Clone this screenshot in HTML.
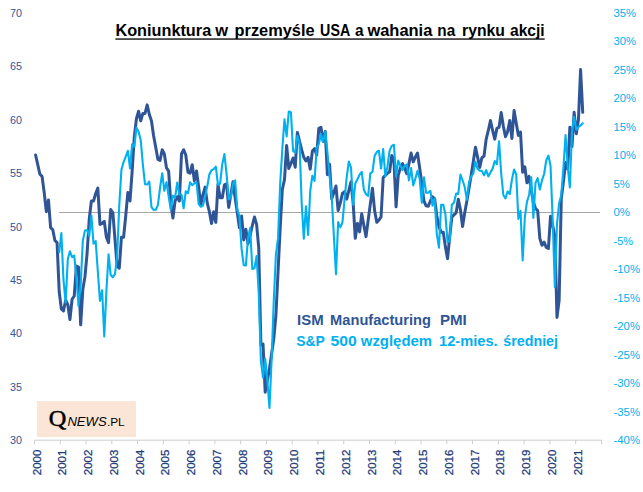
<!DOCTYPE html>
<html><head><meta charset="utf-8"><title>Koniunktura w przemyśle USA a wahania na rynku akcji</title>
<style>
html,body{margin:0;padding:0;background:#fff;}
body{width:643px;height:492px;overflow:hidden;font-family:"Liberation Sans",sans-serif;}
svg{display:block;}
text{font-family:"Liberation Sans",sans-serif;}
.la{fill:#2F5597;font-size:11px;}
.ra{fill:#00B0F0;font-size:11px;}
.ya{fill:#21397A;font-size:11px;stroke:#21397A;stroke-width:0.25;}
.ti{fill:#000;font-size:15.7px;font-weight:bold;}
.l1{fill:#2F5597;font-size:15px;font-weight:bold;}
.l2{fill:#00B0F0;font-size:15px;font-weight:bold;}
</style></head><body>
<svg width="643" height="492" viewBox="0 0 643 492">
<rect x="0" y="0" width="643" height="492" fill="#ffffff"/>

<text class="la" x="10" y="16.9" textLength="12" lengthAdjust="spacingAndGlyphs">70</text>
<text class="la" x="10" y="70.3" textLength="12" lengthAdjust="spacingAndGlyphs">65</text>
<text class="la" x="10" y="123.7" textLength="12" lengthAdjust="spacingAndGlyphs">60</text>
<text class="la" x="10" y="177.1" textLength="12" lengthAdjust="spacingAndGlyphs">55</text>
<text class="la" x="10" y="230.5" textLength="12" lengthAdjust="spacingAndGlyphs">50</text>
<text class="la" x="10" y="283.9" textLength="12" lengthAdjust="spacingAndGlyphs">45</text>
<text class="la" x="10" y="337.3" textLength="12" lengthAdjust="spacingAndGlyphs">40</text>
<text class="la" x="10" y="390.7" textLength="12" lengthAdjust="spacingAndGlyphs">35</text>
<text class="la" x="10" y="444.1" textLength="12" lengthAdjust="spacingAndGlyphs">30</text>
<text class="ra" x="613.5" y="16.9" textLength="22.5" lengthAdjust="spacingAndGlyphs">35%</text>
<text class="ra" x="613.5" y="45.4" textLength="22.5" lengthAdjust="spacingAndGlyphs">30%</text>
<text class="ra" x="613.5" y="73.9" textLength="22.5" lengthAdjust="spacingAndGlyphs">25%</text>
<text class="ra" x="613.5" y="102.3" textLength="22.5" lengthAdjust="spacingAndGlyphs">20%</text>
<text class="ra" x="613.5" y="130.8" textLength="22.5" lengthAdjust="spacingAndGlyphs">15%</text>
<text class="ra" x="613.5" y="159.3" textLength="22.5" lengthAdjust="spacingAndGlyphs">10%</text>
<text class="ra" x="613.5" y="187.8" textLength="16.5" lengthAdjust="spacingAndGlyphs">5%</text>
<text class="ra" x="613.5" y="216.3" textLength="16.5" lengthAdjust="spacingAndGlyphs">0%</text>
<text class="ra" x="613.5" y="244.7" textLength="19.5" lengthAdjust="spacingAndGlyphs">-5%</text>
<text class="ra" x="613.5" y="273.2" textLength="26.5" lengthAdjust="spacingAndGlyphs">-10%</text>
<text class="ra" x="613.5" y="301.7" textLength="26.5" lengthAdjust="spacingAndGlyphs">-15%</text>
<text class="ra" x="613.5" y="330.2" textLength="26.5" lengthAdjust="spacingAndGlyphs">-20%</text>
<text class="ra" x="613.5" y="358.7" textLength="26.5" lengthAdjust="spacingAndGlyphs">-25%</text>
<text class="ra" x="613.5" y="387.1" textLength="26.5" lengthAdjust="spacingAndGlyphs">-30%</text>
<text class="ra" x="613.5" y="415.6" textLength="26.5" lengthAdjust="spacingAndGlyphs">-35%</text>
<text class="ra" x="613.5" y="444.1" textLength="26.5" lengthAdjust="spacingAndGlyphs">-40%</text>
<line x1="34.5" y1="440.2" x2="601.4399999999999" y2="440.2" stroke="#CDCDCD" stroke-width="1"/>
<line x1="34.50" y1="440.2" x2="34.50" y2="444.2" stroke="#CDCDCD" stroke-width="1"/>
<line x1="60.27" y1="440.2" x2="60.27" y2="444.2" stroke="#CDCDCD" stroke-width="1"/>
<line x1="86.04" y1="440.2" x2="86.04" y2="444.2" stroke="#CDCDCD" stroke-width="1"/>
<line x1="111.81" y1="440.2" x2="111.81" y2="444.2" stroke="#CDCDCD" stroke-width="1"/>
<line x1="137.58" y1="440.2" x2="137.58" y2="444.2" stroke="#CDCDCD" stroke-width="1"/>
<line x1="163.35" y1="440.2" x2="163.35" y2="444.2" stroke="#CDCDCD" stroke-width="1"/>
<line x1="189.12" y1="440.2" x2="189.12" y2="444.2" stroke="#CDCDCD" stroke-width="1"/>
<line x1="214.89" y1="440.2" x2="214.89" y2="444.2" stroke="#CDCDCD" stroke-width="1"/>
<line x1="240.66" y1="440.2" x2="240.66" y2="444.2" stroke="#CDCDCD" stroke-width="1"/>
<line x1="266.43" y1="440.2" x2="266.43" y2="444.2" stroke="#CDCDCD" stroke-width="1"/>
<line x1="292.20" y1="440.2" x2="292.20" y2="444.2" stroke="#CDCDCD" stroke-width="1"/>
<line x1="317.97" y1="440.2" x2="317.97" y2="444.2" stroke="#CDCDCD" stroke-width="1"/>
<line x1="343.74" y1="440.2" x2="343.74" y2="444.2" stroke="#CDCDCD" stroke-width="1"/>
<line x1="369.51" y1="440.2" x2="369.51" y2="444.2" stroke="#CDCDCD" stroke-width="1"/>
<line x1="395.28" y1="440.2" x2="395.28" y2="444.2" stroke="#CDCDCD" stroke-width="1"/>
<line x1="421.05" y1="440.2" x2="421.05" y2="444.2" stroke="#CDCDCD" stroke-width="1"/>
<line x1="446.82" y1="440.2" x2="446.82" y2="444.2" stroke="#CDCDCD" stroke-width="1"/>
<line x1="472.59" y1="440.2" x2="472.59" y2="444.2" stroke="#CDCDCD" stroke-width="1"/>
<line x1="498.36" y1="440.2" x2="498.36" y2="444.2" stroke="#CDCDCD" stroke-width="1"/>
<line x1="524.13" y1="440.2" x2="524.13" y2="444.2" stroke="#CDCDCD" stroke-width="1"/>
<line x1="549.90" y1="440.2" x2="549.90" y2="444.2" stroke="#CDCDCD" stroke-width="1"/>
<line x1="575.67" y1="440.2" x2="575.67" y2="444.2" stroke="#CDCDCD" stroke-width="1"/>
<line x1="601.44" y1="440.2" x2="601.44" y2="444.2" stroke="#CDCDCD" stroke-width="1"/>
<text class="ya" transform="translate(40.50,475.2) rotate(-90)" textLength="25.5" lengthAdjust="spacingAndGlyphs">2000</text>
<text class="ya" transform="translate(66.27,475.2) rotate(-90)" textLength="25.5" lengthAdjust="spacingAndGlyphs">2001</text>
<text class="ya" transform="translate(92.04,475.2) rotate(-90)" textLength="25.5" lengthAdjust="spacingAndGlyphs">2002</text>
<text class="ya" transform="translate(117.81,475.2) rotate(-90)" textLength="25.5" lengthAdjust="spacingAndGlyphs">2003</text>
<text class="ya" transform="translate(143.58,475.2) rotate(-90)" textLength="25.5" lengthAdjust="spacingAndGlyphs">2004</text>
<text class="ya" transform="translate(169.35,475.2) rotate(-90)" textLength="25.5" lengthAdjust="spacingAndGlyphs">2005</text>
<text class="ya" transform="translate(195.12,475.2) rotate(-90)" textLength="25.5" lengthAdjust="spacingAndGlyphs">2006</text>
<text class="ya" transform="translate(220.89,475.2) rotate(-90)" textLength="25.5" lengthAdjust="spacingAndGlyphs">2007</text>
<text class="ya" transform="translate(246.66,475.2) rotate(-90)" textLength="25.5" lengthAdjust="spacingAndGlyphs">2008</text>
<text class="ya" transform="translate(272.43,475.2) rotate(-90)" textLength="25.5" lengthAdjust="spacingAndGlyphs">2009</text>
<text class="ya" transform="translate(298.20,475.2) rotate(-90)" textLength="25.5" lengthAdjust="spacingAndGlyphs">2010</text>
<text class="ya" transform="translate(323.97,475.2) rotate(-90)" textLength="25.5" lengthAdjust="spacingAndGlyphs">2011</text>
<text class="ya" transform="translate(349.74,475.2) rotate(-90)" textLength="25.5" lengthAdjust="spacingAndGlyphs">2012</text>
<text class="ya" transform="translate(375.51,475.2) rotate(-90)" textLength="25.5" lengthAdjust="spacingAndGlyphs">2013</text>
<text class="ya" transform="translate(401.28,475.2) rotate(-90)" textLength="25.5" lengthAdjust="spacingAndGlyphs">2014</text>
<text class="ya" transform="translate(427.05,475.2) rotate(-90)" textLength="25.5" lengthAdjust="spacingAndGlyphs">2015</text>
<text class="ya" transform="translate(452.82,475.2) rotate(-90)" textLength="25.5" lengthAdjust="spacingAndGlyphs">2016</text>
<text class="ya" transform="translate(478.59,475.2) rotate(-90)" textLength="25.5" lengthAdjust="spacingAndGlyphs">2017</text>
<text class="ya" transform="translate(504.36,475.2) rotate(-90)" textLength="25.5" lengthAdjust="spacingAndGlyphs">2018</text>
<text class="ya" transform="translate(530.13,475.2) rotate(-90)" textLength="25.5" lengthAdjust="spacingAndGlyphs">2019</text>
<text class="ya" transform="translate(555.90,475.2) rotate(-90)" textLength="25.5" lengthAdjust="spacingAndGlyphs">2020</text>
<text class="ya" transform="translate(581.67,475.2) rotate(-90)" textLength="25.5" lengthAdjust="spacingAndGlyphs">2021</text>
<line x1="59.20" y1="212.5" x2="600" y2="212.5" stroke="#A6A6A6" stroke-width="1.1"/>
<polyline points="35.60,155.04 37.75,164.66 39.89,174.27 42.04,176.40 44.18,192.42 46.33,211.65 48.47,199.90 50.62,227.67 52.76,229.80 54.91,240.48 57.06,242.62 59.20,291.75 61.35,308.84 63.49,310.97 65.64,300.29 67.78,304.56 69.93,319.52 72.08,299.22 74.22,296.02 76.37,266.12 78.51,267.18 80.66,324.86 82.80,289.61 84.95,276.80 87.09,253.30 89.24,219.12 91.39,200.97 93.53,200.97 95.68,193.49 97.82,188.15 99.97,224.46 102.11,223.40 104.26,221.26 106.40,237.28 108.55,242.62 110.70,209.51 112.84,212.72 114.99,239.42 117.13,266.12 119.28,268.25 121.42,237.28 123.57,237.28 125.72,215.92 127.86,192.42 130.01,200.97 132.15,171.06 134.30,136.89 136.44,118.73 138.59,111.26 140.73,120.87 142.88,113.39 145.03,113.39 147.17,104.85 149.32,114.46 151.46,120.87 153.61,135.82 155.75,147.57 157.90,159.32 160.04,160.38 162.19,149.70 164.34,153.98 166.48,167.86 168.63,171.06 170.77,203.10 172.92,218.06 175.06,200.97 177.21,196.70 179.36,200.97 181.50,153.98 183.65,149.70 185.79,155.04 187.94,172.13 190.08,173.20 192.23,164.66 194.37,180.68 196.52,171.06 198.67,187.08 200.81,205.24 202.96,194.56 205.10,187.08 207.25,203.10 209.39,211.65 211.54,223.40 213.68,211.65 215.83,222.33 217.98,184.41 220.12,197.76 222.27,197.76 224.41,184.95 226.56,183.88 228.70,207.38 230.85,194.56 233.00,181.74 235.14,197.76 237.29,212.72 239.43,227.67 241.58,215.92 243.72,239.95 245.87,229.16 248.01,243.69 250.16,235.14 252.31,225.53 254.45,216.99 256.60,224.46 258.74,247.96 260.89,345.15 263.03,344.08 265.18,392.14 267.32,380.39 269.47,368.64 271.62,353.69 273.76,338.74 275.91,315.24 278.05,271.46 280.20,227.67 282.34,189.22 284.49,179.61 286.64,145.43 288.78,168.50 290.93,163.59 293.07,157.93 295.22,167.22 297.36,132.40 299.51,141.16 301.65,149.70 303.80,157.29 305.95,161.02 308.09,157.29 310.24,169.14 312.38,151.09 314.53,148.64 316.67,155.04 318.82,128.34 320.96,127.28 323.11,141.16 325.26,131.55 327.40,174.70 329.55,164.12 331.69,198.83 333.84,192.42 335.98,186.02 338.13,210.58 340.28,203.10 342.42,193.49 344.57,191.68 346.71,199.15 348.86,190.29 351.00,181.74 353.15,203.10 355.29,238.35 357.44,223.40 359.59,231.94 361.73,213.78 363.88,225.53 366.02,236.64 368.17,220.19 370.31,204.17 372.46,188.15 374.60,210.58 376.75,222.33 378.90,220.19 381.04,216.99 383.19,177.47 385.33,175.34 387.48,173.20 389.62,171.81 391.77,155.58 393.92,159.32 396.06,206.84 398.21,175.34 400.35,167.86 402.50,163.59 404.64,167.86 406.79,173.63 408.93,163.59 411.08,153.01 413.23,161.77 415.37,157.18 417.52,153.01 419.66,167.86 421.81,183.56 423.95,200.97 426.10,205.77 428.24,206.31 430.39,200.97 432.54,196.70 434.68,198.83 436.83,215.92 438.97,226.60 441.12,232.15 443.26,232.15 445.41,246.89 447.56,258.64 449.70,236.75 451.85,216.99 453.99,214.85 456.14,212.72 458.28,199.26 460.43,209.51 462.57,226.60 464.72,212.72 466.87,200.97 469.01,188.15 471.16,175.34 473.30,161.45 475.45,147.25 477.59,157.18 479.74,167.43 481.88,157.71 484.03,156.11 486.18,139.02 488.32,130.48 490.47,120.55 492.61,130.48 494.76,139.13 496.90,128.34 499.05,127.28 501.20,112.43 503.34,126.21 505.49,136.67 507.63,131.55 509.78,120.55 511.92,138.49 514.07,110.51 516.21,123.00 518.36,135.39 520.51,132.08 522.65,172.13 524.80,166.79 526.94,182.81 529.09,176.40 531.23,190.29 533.38,202.04 535.52,208.44 537.67,210.58 539.82,238.35 541.96,245.29 544.11,242.19 546.25,247.43 548.40,248.49 550.54,216.13 552.69,225.53 554.84,236.21 556.98,317.38 559.13,300.29 561.27,198.83 563.42,181.74 565.56,162.52 567.71,168.93 569.85,127.28 572.00,146.50 574.15,112.32 576.29,133.68 578.44,119.80 580.58,69.60 582.73,112.32" fill="none" stroke="#2F5597" stroke-width="3.0" stroke-linejoin="round" stroke-linecap="round"/>
<polyline points="59.20,252.26 61.35,233.00 63.49,279.93 65.64,302.55 67.78,259.32 69.93,251.30 72.08,257.12 74.22,255.51 76.37,276.92 78.51,305.92 80.66,285.02 82.80,241.15 84.95,230.46 87.09,229.90 89.24,236.16 91.39,215.58 93.53,243.66 95.68,241.09 97.82,271.40 99.97,300.85 102.11,290.25 104.26,336.45 106.40,291.11 108.55,254.41 110.70,275.03 112.84,277.25 114.99,274.19 117.13,256.05 119.28,205.06 121.42,169.86 123.57,162.05 125.72,156.57 127.86,150.75 130.01,168.45 132.15,144.21 134.30,146.54 136.44,127.63 138.59,131.74 140.73,140.20 142.88,164.77 145.03,184.25 147.17,184.44 149.32,181.49 151.46,207.01 153.61,209.90 155.75,209.69 157.90,205.11 160.04,187.98 162.19,173.20 164.34,190.78 166.48,182.18 168.63,195.97 170.77,209.81 172.92,195.68 175.06,197.88 177.21,182.57 179.36,194.14 181.50,194.79 183.65,208.28 185.79,191.21 187.94,193.25 190.08,182.35 192.23,185.23 194.37,183.27 196.52,182.23 198.67,203.81 200.81,206.78 202.96,205.48 205.10,196.45 207.25,186.25 209.39,174.26 211.54,170.22 213.68,169.16 215.83,166.69 217.98,184.85 220.12,183.57 222.27,164.20 224.41,154.07 226.56,173.77 228.70,199.38 230.85,197.71 233.00,183.42 235.14,180.46 237.29,209.57 239.43,216.11 241.58,248.93 243.72,265.23 245.87,265.43 248.01,237.86 250.16,227.91 252.31,268.90 254.45,268.30 256.60,256.08 258.74,293.26 260.89,361.08 263.03,377.55 265.18,358.59 267.32,379.60 269.47,407.96 271.62,359.52 273.76,300.72 275.91,254.71 278.05,238.15 280.20,183.32 282.34,148.50 284.49,119.30 286.64,136.39 288.78,111.54 290.93,112.32 293.07,150.83 295.22,152.82 297.36,135.84 299.51,142.52 301.65,202.72 303.80,238.64 305.95,206.33 308.09,234.85 310.24,190.74 312.38,175.71 314.53,180.92 316.67,148.40 318.82,144.03 320.96,134.12 323.11,141.95 325.26,131.83 327.40,151.85 329.55,175.41 331.69,195.94 333.84,235.37 335.98,274.27 338.13,222.15 340.28,227.39 342.42,222.66 344.57,199.28 346.71,177.14 348.86,161.51 351.00,167.52 353.15,204.72 355.29,183.49 357.44,179.32 359.59,174.70 361.73,171.90 363.88,189.80 366.02,194.21 368.17,196.06 370.31,173.30 372.46,171.97 374.60,155.95 376.75,151.97 378.90,150.56 381.04,168.51 383.19,149.01 385.33,176.35 387.48,166.38 389.62,150.57 391.77,145.89 393.92,144.77 396.06,176.13 398.21,160.66 400.35,165.49 402.50,170.11 404.64,165.82 406.79,164.32 408.93,180.42 411.08,168.14 413.23,185.43 415.37,178.58 417.52,170.77 419.66,178.82 421.81,202.82 423.95,177.32 426.10,192.68 428.24,192.61 430.39,190.92 432.54,205.77 434.68,198.52 436.83,234.34 438.97,247.69 441.12,204.79 443.26,204.80 445.41,214.58 447.56,242.16 449.70,240.60 451.85,204.68 453.99,202.64 456.14,193.51 458.28,193.84 460.43,174.63 462.57,180.26 464.72,186.99 466.87,199.64 469.01,182.59 471.16,176.38 473.30,173.71 475.45,161.53 477.59,168.91 479.74,170.73 481.88,170.87 484.03,175.23 486.18,170.14 488.32,176.40 490.47,172.39 492.61,168.61 494.76,161.09 496.90,164.21 499.05,141.30 501.20,173.33 503.34,195.05 505.49,198.46 507.63,191.44 509.78,194.11 511.92,179.53 514.07,169.54 516.21,174.32 518.36,218.83 520.51,210.73 522.65,260.52 524.80,217.44 526.94,201.91 529.09,194.97 531.23,177.35 533.38,217.91 535.52,183.04 537.67,178.13 539.82,189.49 541.96,180.43 544.11,174.00 546.25,160.23 548.40,155.59 550.54,165.72 552.69,220.22 554.84,287.07 556.98,223.77 559.13,203.24 561.27,195.18 563.42,167.79 565.56,134.96 567.71,166.77 569.85,187.48 572.00,131.86 574.15,116.90 576.29,129.77 578.44,126.92 580.58,125.50 582.73,123.22" fill="none" stroke="#00B0F0" stroke-width="2.1" stroke-linejoin="round" stroke-linecap="round"/>
<text class="ti" x="115.4" y="36.1" textLength="95.8" lengthAdjust="spacingAndGlyphs">Koniunktura</text>
<text class="ti" x="215.2" y="36.1" textLength="12.8" lengthAdjust="spacingAndGlyphs">w</text>
<text class="ti" x="234.6" y="36.1" textLength="80.0" lengthAdjust="spacingAndGlyphs">przemyśle</text>
<text class="ti" x="320.1" y="36.1" textLength="30.1" lengthAdjust="spacingAndGlyphs">USA</text>
<text class="ti" x="355" y="36.1" textLength="8.6" lengthAdjust="spacingAndGlyphs">a</text>
<text class="ti" x="367.4" y="36.1" textLength="64.9" lengthAdjust="spacingAndGlyphs">wahania</text>
<text class="ti" x="437.3" y="36.1" textLength="17.9" lengthAdjust="spacingAndGlyphs">na</text>
<text class="ti" x="462.1" y="36.1" textLength="42.9" lengthAdjust="spacingAndGlyphs">rynku</text>
<text class="ti" x="510" y="36.1" textLength="34.7" lengthAdjust="spacingAndGlyphs">akcji</text>
<rect x="115.4" y="38.4" width="429.3" height="1.3" fill="#000"/>
<text class="l1" x="297" y="324.9" textLength="26.6" lengthAdjust="spacingAndGlyphs">ISM</text>
<text class="l1" x="330.1" y="324.9" textLength="100.9" lengthAdjust="spacingAndGlyphs">Manufacturing</text>
<text class="l1" x="439.9" y="324.9" textLength="26.9" lengthAdjust="spacingAndGlyphs">PMI</text>
<text class="l2" x="296.2" y="346" textLength="28.6" lengthAdjust="spacingAndGlyphs">S&amp;P</text>
<text class="l2" x="330.5" y="346" textLength="26.2" lengthAdjust="spacingAndGlyphs">500</text>
<text class="l2" x="360.8" y="346" textLength="71.3" lengthAdjust="spacingAndGlyphs">względem</text>
<text class="l2" x="439.0" y="346" textLength="58.6" lengthAdjust="spacingAndGlyphs">12-mies.</text>
<text class="l2" x="503.3" y="346" textLength="54.7" lengthAdjust="spacingAndGlyphs">średniej</text>
<rect x="36.9" y="401.1" width="99" height="35.9" fill="#FBE5D6"/>
<text x="48.8" y="426" style="font-family:'Liberation Serif',serif;font-weight:normal;font-size:23.2px;fill:#000;stroke:#000;stroke-width:0.5" textLength="17.6" lengthAdjust="spacingAndGlyphs">Q</text>
<text x="67.4" y="425.6" style="font-style:italic;font-size:13px;fill:#000" textLength="39.3" lengthAdjust="spacingAndGlyphs">NEWS</text>
<text x="106.9" y="425.6" style="font-size:11.8px;fill:#000" textLength="17.8" lengthAdjust="spacingAndGlyphs">.PL</text>
</svg></body></html>
